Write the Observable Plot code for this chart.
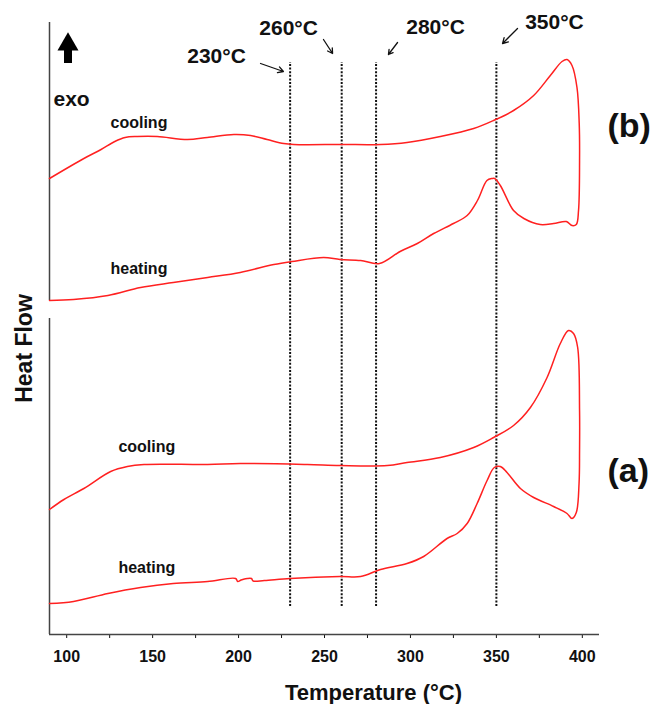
<!DOCTYPE html>
<html>
<head>
<meta charset="utf-8">
<script src="https://cdn.jsdelivr.net/npm/d3@7"></script>
<script src="https://cdn.jsdelivr.net/npm/@observablehq/plot@0.6"></script>
<style>
  body { margin: 0; background: #fff; }
</style>
</head>
<body>
<div id="chart"></div>
<script>
// DSC traces: [temperature °C, heat flow (arbitrary units, exo up)]
// Sample (b): heating run, then cooling run from the top temperature
const bHeating = [
  [90, 33.4], [104, 33.5], [124, 33.9], [143, 34.7], [162, 35.2], [182, 35.7],
  [201, 36.2], [220.5, 37.0], [231, 37.3], [249.5, 37.7], [259, 37.5], [271, 37.4],
  [282, 37.1], [294, 38.3], [304, 39.1], [313.5, 40.1], [325, 41.1], [333, 41.9],
  [339, 43.4], [344.5, 45.4], [347.5, 45.6], [349, 45.6], [352.3, 44.9], [360, 42.4],
  [366, 41.6], [375.5, 41.0], [383.3, 41.1], [390.7, 41.3], [394, 40.9], [396.5, 41.0],
  [397.8, 42.4], [398.4, 47.4]
];
const bCooling = [
  [398.2, 51.1], [396.9, 54.7], [394, 56.9], [391.1, 57.5], [388.2, 57.3], [381.4, 55.9],
  [371.7, 53.9], [360, 52.4], [348.4, 51.4], [336.8, 50.6], [317.4, 49.8], [298, 49.2],
  [282.6, 49.0], [260, 49.0], [232, 49.0], [226.3, 49.1], [216.6, 49.5], [207, 49.9],
  [197.3, 50.0], [181.8, 49.7], [170.2, 49.5], [152.7, 49.8], [141, 49.8], [134, 49.7],
  [128, 49.3], [120, 48.5], [110, 47.6], [90, 45.6]
];

// Sample (a)
const aHeating = [
  [90, 3.1], [104, 3.3], [124, 4.1], [143, 4.7], [162, 5.1], [182, 5.3],
  [198.3, 5.6], [199.5, 5.3], [201.5, 5.45], [205, 5.6], [207.5, 5.6], [208.5, 5.35],
  [215, 5.4], [230, 5.6], [259, 5.8], [271, 5.8], [282.6, 6.5], [298, 7.1],
  [307.7, 7.8], [321.3, 9.6], [327.2, 10.1], [333, 11.1], [338.8, 13.1], [344.6, 15.4],
  [348.8, 16.7], [352.3, 16.8], [356.2, 16.2], [364, 14.6], [371.7, 13.7], [383.3, 12.8],
  [391.1, 12.1], [394, 11.6], [396.5, 12.2], [398.1, 15.1], [398.4, 18.4]
];
const aCooling = [
  [398.4, 22.4], [397.3, 28.7], [394.9, 30.1], [392, 30.4], [387.2, 29.1], [379.5, 25.7],
  [369.8, 22.7], [360, 20.9], [348.4, 19.7], [336.8, 18.7], [317.4, 17.7], [298, 17.2],
  [286.5, 16.9], [259, 16.9], [240, 17.0], [201, 17.1], [182, 17.0], [145, 17.0],
  [135.3, 16.8], [125.6, 16.3], [110, 14.6], [98.4, 13.5], [90, 12.5]
];

// Transition temperatures marked with dotted lines
const transitions = [230, 260, 280, 350];

// Temperature axis ticks (labelled every 50 °C)
const tempTicks = [100, 125, 150, 175, 200, 225, 250, 275, 300, 325, 350, 375, 400];
const tempLabels = ["100", "", "150", "", "200", "", "250", "", "300", "", "350", "", "400"];

// Build one closed heating→cooling loop per sample
const loops = [
  ...[...bHeating, ...bCooling].map(([t, q]) => ({sample: "b", t, q})),
  ...[...aHeating, ...aCooling].map(([t, q]) => ({sample: "a", t, q}))
];

// Where each run is named, and where each transition is called out
const runNames = [
  {text: "cooling", t: 125.5, q: 50.7},
  {text: "heating", t: 125.5, q: 36.1},
  {text: "cooling", t: 130.1, q: 18.3},
  {text: "heating", t: 130.1, q: 6.2}
];
const callouts = [
  {t: 230, lt: 187.2, lq: 57.2, x1: 212.8, y1: 57.1, x2: 226.1, y2: 56.3},
  {t: 260, lt: 229.1, lq: 60.0, x1: 249.4, y1: 59.5, x2: 254.7, y2: 58.1},
  {t: 280, lt: 314.6, lq: 60.05, x1: 292.5, y1: 59.2, x2: 287.2, y2: 58.0},
  {t: 350, lt: 383.8, lq: 60.55, x1: 362.3, y1: 60.6, x2: 353.6, y2: 59.1}
];

const font = "'Liberation Sans', Arial, Helvetica, sans-serif";

const chart = Plot.plot({
  width: 653,
  height: 704,
  marginLeft: 49,
  marginRight: 54,
  marginTop: 22,
  marginBottom: 70,
  style: {fontFamily: font, fontSize: "16px", fontWeight: "bold", color: "#111", background: "#fff"},
  x: {
    domain: [90, 410],
    ticks: tempTicks,
    tickFormat: (d) => tempLabels[tempTicks.indexOf(d)],
    tickSize: 4,
    tickPadding: 12,
    label: null
  },
  y: {domain: [0, 61.2], axis: null},
  marks: [
    // axes: temperature baseline and a heat-flow axis broken between the two samples
    Plot.ruleY([0], {stroke: "#444", strokeWidth: 1.5}),
    Plot.ruleX([{y1: 33.4, y2: 61.2}, {y1: 0, y2: 31.6}], {x: () => 90, y1: "y1", y2: "y2", stroke: "#444", strokeWidth: 1.5}),

    // transition temperatures
    Plot.ruleX(transitions, {x: (d) => d, y1: 2.8, y2: 57.2, stroke: "#111", strokeWidth: 2, strokeDasharray: "2,1.6"}),

    // DSC traces
    Plot.line(loops, {x: "t", y: "q", z: "sample", stroke: "#ff2020", strokeWidth: 1.5, curve: "catmull-rom"}),

    // callouts for transition temperatures
    Plot.text(callouts, {x: "lt", y: "lq", text: (d) => `${d.t}°C`, fontSize: 21, fontWeight: "bold", textAnchor: "middle", lineAnchor: "bottom", fill: "#111"}),
    Plot.arrow(callouts, {x1: "x1", y1: "y1", x2: "x2", y2: "y2", stroke: "#111", strokeWidth: 1.3, headLength: 7}),

    // run names
    Plot.text(runNames, {x: "t", y: "q", text: "text", fontSize: 16, fontWeight: "bold", textAnchor: "start", lineAnchor: "bottom", fill: "#111"}),

    // sample labels
    Plot.text([{label: "(b)", q: 49.8}, {label: "(a)", q: 15.3}], {frameAnchor: "right", y: "q", text: "label", dx: 8, fontSize: 34, fontWeight: "bold", textAnchor: "start", lineAnchor: "bottom", fill: "#111"}),

    // exotherm direction marker
    Plot.ruleX([100.76], {x: (d) => d, y1: 57.1, y2: 58.5, stroke: "#000", strokeWidth: 8}),
    Plot.dot([{t: 100.76, q: 59.0}], {x: "t", y: "q", symbol: "triangle", r: 7.8, fill: "#000", stroke: null}),
    Plot.text(["exo"], {frameAnchor: "left", y: () => 52.9, text: (d) => d, dx: 4, fontSize: 21, fontWeight: "bold", textAnchor: "start", lineAnchor: "bottom", fill: "#111"}),

    // axis titles
    Plot.text(["Heat Flow"], {frameAnchor: "left", y: () => 28.6, text: (d) => d, dx: -25, rotate: -90, fontSize: 23, fontWeight: "bold", textAnchor: "middle", lineAnchor: "middle", fill: "#111"}),
    Plot.text(["Temperature (°C)"], {frameAnchor: "bottom", text: (d) => d, dx: 49, dy: 65, fontSize: 22, fontWeight: "bold", textAnchor: "middle", lineAnchor: "bottom", fill: "#111"})
  ]
});

document.getElementById("chart").appendChild(chart);
</script>
</body>
</html>
